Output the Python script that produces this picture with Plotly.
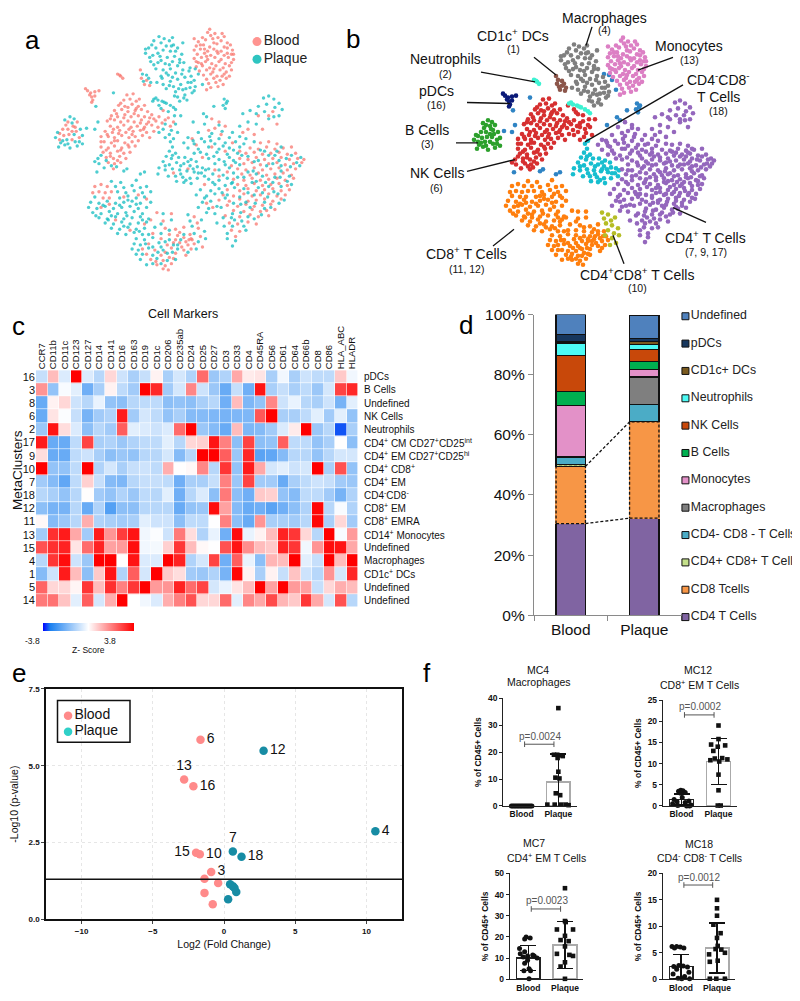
import plotly.graph_objects as go

# the page body keeps its 8px margin, so the figure is 8px smaller and positions are measured from the page corner
W, H = 800, 1001
PAGE_MARGIN = 8
FONT = "Liberation Sans"

# --- panels a / b: t-SNE points, per cluster and tissue
mono_blood = [(281,32),(288,33),(276,37),(284,35),(291,37),(297,36),(272,41),(279,39),(287,42),(294,40),(300,42),
    (270,45),(277,44),(283,46),(290,43),(297,46),(303,44),(268,49),(274,48),(281,50),(287,48),(294,50),(300,47),(305,49),
    (271,53),(278,52),(284,54),(291,52),(297,54),(304,53),(268,57),(275,56),(281,58),(288,56),(294,58),(301,56),(306,58),
    (272,61),(279,60),(285,62),(292,60),(298,62),(304,61),(270,65),(276,64),(283,66),(289,64),(296,66),(302,64),
    (273,69),(280,68),(286,70),(293,68),(299,70),(304,68),(277,73),(284,72),(290,74),(297,72),(302,74),
    (280,77),(287,76),(293,78),(299,76),(282,81),(289,80),(296,82),(284,85),(291,84),(280,87),(268,38),(283,29),
    (274,44),(286,38),(295,33),(280,55),(290,50),(300,52),(275,62),(287,67),(295,74),(270,60),(306,53),(278,48)]
mac_plaque = [(229,40),(236,42),(244,40),(248,44),(224,47),(231,47),(238,49),(245,50),(252,47),(221,52),(228,54),
    (235,55),(242,56),(249,55),(256,53),(226,60),(233,61),(240,62),(247,60),(254,58),(231,67),(238,68),(245,67),(252,64),
    (258,61),(236,74),(243,73),(250,71),(257,68),(263,69),(238,82),(245,79),(252,77),(259,75),(265,74),(241,86),(248,84),
    (255,82),(262,80),(268,78),(250,89),(257,87),(264,85),(269,84),(252,94),(259,92),(266,90),(254,98),(261,97),(237,76),
    (232,80),(257,42),(234,36),(247,37),(225,56),(241,45),(236,59),(250,50),(244,63),(256,72),(247,75),(260,86),(253,86),
    (227,44),(239,38),(221,48),(233,52),(246,45),(229,63),(241,71),(254,61),(265,80),(244,83),(258,95),(249,93),(268,88)]
nk_blood = [(203,92),(209,91),(200,97),(206,96),(212,98),(195,102),(201,103),(208,101),(214,103),(220,102),(191,107),
    (198,106),(204,108),(211,107),(217,106),(223,108),(238,107),(188,112),(194,113),(201,111),(207,113),(214,112),(220,113),
    (227,111),(234,113),(243,114),(184,117),(191,116),(197,118),(204,117),(210,118),(217,116),(224,118),(231,117),(240,116),
    (248,118),(187,122),(194,123),(200,121),(207,123),(213,122),(220,123),(227,121),(233,123),(245,122),(182,127),(189,128),
    (196,126),(202,128),(209,127),(216,126),(222,128),(229,127),(185,132),(191,133),(198,131),(205,133),(211,132),(218,131),
    (225,133),(181,137),(188,138),(194,136),(201,138),(208,137),(214,136),(178,142),(185,143),(191,141),(198,143),(205,142),
    (211,141),(180,147),(187,148),(194,146),(200,148),(206,147),(183,152),(190,153),(196,151),(202,153),(185,157),(191,158),
    (197,157),(190,163),(215,96),(222,120),(178,132),
    (197,100),(204,104),(193,110),(210,110),(187,115),(200,114),(216,119),(190,125),(205,125),(219,125),(184,130),(195,129),
    (208,130),(178,137),(191,136),(204,140),(183,145),(197,145),(187,151),(194,155),(229,115),(237,119),(212,105),(225,114)]
nk_plaque = [(178,150),(183,155),(176,158),(188,160),(181,162),(193,161),(236,105),(243,108),(249,112),(240,120),(228,98),
    (234,102),(175,153),(172,156),(255,112),(238,125),(244,130),(234,128),(250,120),(246,126),(240,133),(252,128)]
bcell_blood = [(146,118),(151,122),(141,125),(154,127),(147,130),(157,133),(142,131),(150,135),(146,125),(155,118),(138,135),
    (150,127),(144,121),(138,129),(153,123)]
bcell_plaque = [(148,113),(143,116),(152,115),(136,128),(139,138),(137,142),(143,140),(148,143),(155,141),(160,139),(158,125),
    (160,131),(152,130),(145,135),(141,136),(134,133),(153,137),(146,139),(157,137),(150,119)]
pdc_blood = [(165,88),(168,90),(172,89),(176,88),(169,94),(170,97),(167,92),(172,93),(169,99),(163,86)]
cd1c_blood = [(216,68),(217,76),(222,78),(220,82),(225,83)]
cd1c_plaque = [(218,72),(222,73),(226,80),(224,76),(219,79)]
neut_blood = [(194,72),(197,74),(199,76),(196,73)]
neut_plaque = [(229,96),(233,97),(237,98),(241,100),(245,102),(248,104),(250,106),(231,95),(239,99)]
dn_plaque = [(245,137),(247,142),(244,146),(250,148),(241,151),(246,153),(253,152),(259,152),(265,154),(270,156),(238,156),
    (244,159),(251,157),(258,158),(264,160),(271,161),(276,162),(234,162),(240,164),(247,163),(254,164),(261,165),(268,166),
    (275,167),(279,164),(233,168),(243,170),(250,170),(257,171),(264,172),(271,172),(251,175),(258,176),(265,177),(278,170),
    (248,134),(255,160),(262,156),(247,150),(240,160),(267,163),(255,168),(272,167),(260,174)]
dn_blood = [(262,163),(248,167)]
cd4_blood = [(332,138),(340,137),(348,139),(322,143),(330,144),(338,142),(346,144),(354,143),(362,142),(318,148),(326,147),
    (334,149),(342,148),(350,147),(358,149),(366,148),(312,153),(320,154),(328,152),(336,154),(344,153),(352,152),(360,154),
    (368,153),(374,154),(316,158),(324,157),(332,159),(340,158),(348,157),(356,159),(364,158),(372,157),(310,163),(318,164),
    (326,162),(334,164),(342,163),(350,162),(358,164),(366,163),(314,168),(322,169),(330,167),(338,169),(346,168),(354,167),
    (362,169),(306,173),(316,174),(324,172),(332,174),(340,173),(348,172),(356,174),(364,172),(310,178),(318,179),(326,177),
    (334,179),(342,178),(350,177),(358,179),(300,183),(312,184),(320,182),(328,184),(336,183),(344,182),(352,184),(360,183),
    (296,188),(306,189),(316,187),(324,189),(332,188),(340,187),(348,189),(356,188),(292,193),(302,194),(312,192),(320,194),
    (328,193),(336,192),(344,194),(352,192),(300,198),(310,199),(318,197),(326,199),(334,198),(342,197),(306,203),(316,204),
    (324,202),(332,204),(338,203),(346,202),(298,208),(312,209),(322,207),(330,209),(340,208),(302,215),(310,216),(320,214),
    (328,216),(304,222),(312,223),(308,228),(285,115),(292,118),(298,122),(288,124),(282,126),(340,112),
    (270,140),(285,142),(298,146),(312,146),(276,152),(288,164),(300,166),(278,178),(292,170),(304,160),(280,196),(286,200),
    (266,134),(294,130),(305,138),(315,128),(326,130),(334,125),(348,120),(320,125),(330,112),(344,108)]
cd4_plaque = [(335,95),(340,93),(345,96),(350,100),(338,101),(346,104),(330,103),(322,107),(315,110),(328,110),(336,108),
    (353,106),(320,118),(312,122),(328,120),(340,115),(345,113),(350,112),(278,120),(292,121),(272,128),(285,129),(295,127),
    (305,128),(262,133),(275,134),(283,132),(292,134),(302,133),(312,132),(318,134),(258,138),(268,139),(278,137),(288,139),
    (298,138),(308,137),(316,139),(326,137),(262,143),(272,144),(282,142),(292,144),(302,143),(312,142),(268,148),(280,149),
    (290,147),(300,149),(310,148),(282,153),(292,154),(302,152),(306,155),(288,158),(298,159),(308,157),(282,163),(292,164),
    (302,162),(286,168),(296,169),(306,167),(282,173),(292,174),(300,172),(288,178),(298,179),(304,177),(274,183),(284,184),
    (292,182),(270,188),(280,189),(288,187),(276,195),(284,194),(272,200),(282,201),(290,199),(280,205),(288,206),(340,150),
    (352,165),(328,175),(345,185),(318,195),(360,170),(370,160),(336,195),(305,218),(308,232),(305,237),(296,210),(290,215),
    (300,225),(318,222),(350,155),(325,165),(340,180),(355,193),
    (267,136),(284,136),(296,141),(306,145),(274,147),(287,151),(297,156),(312,159),(320,151),(330,155),(344,158),(357,153),
    (367,157),(316,171),(328,168),(337,176),(351,171),(358,175),(307,181),(320,186),(334,186),(349,187),(298,191),(313,197),
    (327,196),(342,200),(305,206),(320,209),(333,207),(314,213),(297,218),(307,212),(286,176),(295,186),(278,191),(332,145),
    (352,142),(346,150),(324,176),(310,171),
    (336,146),(348,146),(362,150),(371,152),(314,150),(326,156),(338,160),(352,160),(361,161),(320,166),(334,170),(346,171),
    (305,176),(316,182),(330,181),(344,176),(362,178),(300,188),(312,190),(326,188),(339,190),(352,180),(306,196),(322,200),
    (336,201),(350,196),(294,200),(304,210),(316,218),(326,211),(300,230),(313,205)]
cd8_blood = [(172,180),(178,178),(184,180),(176,185),(182,186),(188,185),(170,186),(186,191),(180,191),(232,205),(246,206),
    (226,212),(238,213),(240,220),(250,221),(258,219),(228,225),(244,226),(254,224),(264,226),(236,230),(250,231),(258,229),
    (266,231),(224,235),(242,236),(254,234),(262,236),(268,235),(218,240),(230,241),(246,239),(258,241),(265,240),(222,245),
    (236,246),(250,244),(260,246),(226,250),(238,251),(248,249),(232,255),(240,256),(246,254),(238,259),(243,260),
    (252,227),(260,233),(248,234),(256,238),(240,243),(231,252),(244,248),(263,231),
    (200,190),(214,188),(178,200),(192,212),(206,222),(220,216),(186,197),(222,192)]
cd8_plaque = [(188,175),(197,176),(212,174),(192,180),(200,181),(208,179),(216,181),(222,180),(194,185),(202,186),(210,184),
    (218,186),(226,185),(172,190),(196,191),(204,189),(212,191),(220,190),(168,195),(176,196),(184,194),(192,196),(200,195),
    (208,194),(216,196),(226,195),(166,200),(174,201),(182,199),(190,201),(198,200),(206,199),(214,201),(222,200),(170,205),
    (178,206),(186,204),(194,206),(202,205),(210,204),(218,206),(176,210),(184,211),(192,209),(200,211),(208,210),(216,209),
    (224,211),(182,215),(190,216),(198,214),(206,216),(214,215),(222,214),(236,216),(188,220),(196,221),(204,219),(212,221),
    (220,220),(230,219),(194,225),(202,226),(210,224),(218,226),(236,225),(212,230),(220,231),(228,229),(244,231),(210,235),
    (216,236),(234,234),(248,236),(208,240),(214,241),(224,239),(238,241),(252,240),(212,245),(228,246),(242,244),(216,250),
    (232,249),(242,251),(222,255),(228,254),
    (180,198),(196,198),(212,197),(173,208),(188,208),(203,208),(218,212),(185,212),(200,218),(215,223),(224,226),(204,193),
    (221,235),(233,243),(247,243),(255,231),(240,233),(228,238),(236,254),(218,245),
    (244,222),(252,236),(262,243),(236,238),(250,250),(258,226),(246,212),(238,206)]
dp_blood = [(268,209),(271,215),(272,220),(274,228),(265,230),(276,238)]
dp_plaque = [(262,207),(264,213),(275,212),(266,218),(278,223),(268,225),(279,230),(272,233),(270,240)]
undef_plaque = [(173,103),(190,90),(175,118),(172,125),(164,124),(264,66),(272,72),(269,67),(276,82),(297,96),(299,100),
    (296,102),(300,98),(298,105),(287,103),(277,110),(280,113),(267,118),(200,165),(220,166),(203,163),(174,166),(216,168)]

cluster_names = ["undef", "mono", "mac", "nk", "bcell", "pdc", "cd1c", "neut", "dn", "cd4", "cd8", "dp"]
cluster_colors = ["#2f84c4", "#dc7fc4", "#7f7f7f", "#d62f30", "#2ca02c", "#0b1a78", "#8c564b", "#3df2d2", "#17becf",
                  "#9467bd", "#ff7f0e", "#b5bd25"]
cluster_points = [undef_plaque, mono_blood, mac_plaque, nk_blood + nk_plaque, bcell_blood + bcell_plaque, pdc_blood,
                  cd1c_blood + cd1c_plaque, neut_blood + neut_plaque, dn_plaque + dn_blood, cd4_blood + cd4_plaque,
                  cd8_blood + cd8_plaque, dp_blood + dp_plaque]
blood_points = mono_blood + nk_blood + bcell_blood + pdc_blood + cd1c_blood + neut_blood + dn_blood + cd4_blood + cd8_blood + dp_blood
plaque_points = mac_plaque + nk_plaque + bcell_plaque + cd1c_plaque + neut_plaque + dn_plaque + cd4_plaque + cd8_plaque + dp_plaque + undef_plaque

tissue_labels = ["Blood", "Plaque"]
tissue_key_y = [40.8, 57.8]
tissue_key_colors = ["#ff9490", "#2ec4c0"]

# --- panel c
markers = ["CCR7", "CD11b", "CD11c", "CD123", "CD127", "CD14", "CD141", "CD16", "CD163", "CD19", "CD1c", "CD206", "CD235ab",
           "CD24", "CD25", "CD27", "CD3", "CD33", "CD4", "CD45RA", "CD56", "CD61", "CD64", "CD66b", "CD8", "CD86", "HLA_ABC", "HLADR"]
metaclusters = ["16", "3", "8", "6", "2", "17", "9", "10", "7", "18", "12", "11", "13", "15", "4", "1", "5", "14"]
row_names = ["pDCs", "B Cells", "Undefined", "NK Cells", "Neutrophils", "CD4<sup>+</sup> CM CD27<sup>+</sup>CD25<sup>int</sup>",
             "CD4<sup>+</sup> EM CD27<sup>+</sup>CD25<sup>hi</sup>", "CD4<sup>+</sup> CD8<sup>+</sup>", "CD4<sup>+</sup> EM",
             "CD4<sup>-</sup>CD8<sup>-</sup>", "CD8<sup>+</sup> EM", "CD8<sup>+</sup> EMRA", "CD14<sup>+</sup> Monocytes", "Undefined",
             "Macrophages", "CD1c<sup>+</sup> DCs", "Undefined", "Undefined"]
zscores = [
    [-0.8, 1.0, -0.5, 3.8, -0.5, -1, 0.6, -0.7, -1.2, -0.8, 0.2, -1.2, -0.6, -1.1, 2.2, -1.4, -1.1, 1.3, 0.3, 0.4, -1.2, -0.2, -1.2, -0.7, -0.9, -0.9, 0.8, -0.2],
    [1.6, -1.5, -0.1, -0.4, -2, -1.2, 0.2, -0.9, -1.3, 3.8, 3.2, -1.3, -0.6, 1.8, -0.7, -1.4, -2.1, -0.8, -2, 3.5, -1.2, -0.8, -1.2, -0.9, -1.4, -0.6, 2.8, 3.2],
    [-2.1, 0.2, 0.6, -0.7, -1, -0.3, -1.5, -1.6, -1, -0.9, -0.9, -1.6, -1.5, -1.6, -1.2, -1, -2, 1, -1.8, -1.5, 1.8, -0.7, -0.3, -1, -1.2, -0.7, -1.9, -0.4],
    [-2.1, 0.4, -0.05, -0.8, -1.9, -1.3, -1.1, 3.4, -1.3, -0.6, -0.9, -1.5, -1.2, -1.7, -1.7, -1.8, -1.9, -1.8, -1.8, 2.5, 3.8, -1.2, -1.2, -0.9, -0.4, -1.3, -0.4, -1.5],
    [-1.4, 3.5, 0.5, -0.5, -1.6, -1, -1.3, 2.4, -0.4, -0.5, -0.7, -0.5, 2.2, 3.8, -1.4, -1.7, -2.1, 1, -1.8, -1.7, -1.3, -0.5, 0.3, 3.8, -1.4, -1, -3.4, -1.2],
    [3.4, -2.1, -2.1, -0.9, 2.8, -1.2, -1.1, -1.4, -1.1, -0.9, -0.9, -0.4, -1, 0.6, 0.7, 3.5, 1.9, -1.6, 2.8, -1.6, -1.5, 2.4, -0.9, -0.9, -1.5, -1.2, 0.02, -1.6],
    [0.5, -2.1, -2.1, -0.9, -0.7, -1.2, -1.6, -1.4, -1.5, -1, -1, -0.6, -1.7, -1, 3.8, 3.8, 2.4, -1.4, 3.2, -2.3, -2.2, -1.7, -1, -1, -1.5, -1, -0.6, -0.6],
    [3.8, -1.5, -1.5, -0.9, 3.8, -1.1, -0.6, -1.2, -0.8, -0.7, -0.9, 1.2, 0.02, 0.1, 1.8, -1, 3, -1.5, 3.4, 1.3, -0.6, -0.4, -0.7, -0.6, 3.8, -1.2, 2.6, -1.5],
    [-1.3, -1.7, -2.2, -0.9, 0.7, -0.8, -1.7, -1.8, -1, -0.8, -0.8, -0.9, -2, -1.2, -1.2, -0.8, 1.9, -1.4, 2.8, -1.3, -1.3, -2.1, -1.2, -0.9, -0.7, -0.8, -1.3, -1.4],
    [-1, -1.2, -1.5, -1, 0.03, -1.3, -1.5, -1.1, -1.4, -0.9, -1, -0.4, -2, -1, -0.5, -1.6, 2, -1.6, -2, 0.8, 0.7, -1.5, -1.7, -0.9, -0.9, -1.3, -1.9, -1.1],
    [-1.6, -1.9, -1.9, -1, -2.1, -1.1, -2.4, -1.6, -1.6, -1, -1, -1, -2.1, -1.5, -1.4, 3.6, 1.4, -1.7, -2.1, -2, -2.3, -2, -1.6, -1.1, 3.7, -1, -0.1, -1.1],
    [0.1, -1.7, -1.4, -1, 1.2, -1.1, -1.2, -1.3, -1.2, -0.4, -0.7, -0.7, -1.6, -0.9, -0.9, -0.02, 1.9, -1.6, -2.1, 1.6, -1.2, -1.2, -1.3, -1, 3.7, -1.2, 0.6, -1.3],
    [-1.3, 3.1, 3.4, 1.3, -1.3, 3.4, 1.6, 2.9, 3.5, -0.2, -0.05, -0.7, 2, 0.5, -1.1, -0.3, -2, 3.6, -0.3, 0.2, 1, 3.3, 3, 0.6, -1, 3.8, -0.1, 1.5],
    [2.6, 3.1, 3.3, 0.4, 2.2, 3.3, 1.4, 1.5, 3.6, -0.2, -0.15, 0.7, 3, 1, 0.1, -0.02, 2.6, 3.5, 1.7, 1, 0.8, 3.3, 3, -0.2, 1.6, 3.6, 3.5, 1.3],
    [-1, 3, 3.6, -0.7, -1.4, 3.8, 3.8, 0.02, 3.5, -0.5, -0.5, 3.8, 3.3, -1.1, -0.6, 2.8, -2, 2.4, -0.3, -1.6, 1.1, 1, 3.8, -0.4, -0.8, 3.8, 1, 3.8],
    [-1.7, -0.7, 3.4, 1, -1.6, 0.8, 3.5, -1.1, 2.4, -0.6, 3.8, 0.8, 0.5, -1.3, -1.4, -1.1, -1.9, 3.7, 0.2, -1.2, 0.2, -0.8, 0.9, -0.7, -1, 1.6, -0.6, 3.2],
    [2.3, 0.6, 0.6, 0.15, 3, 1, 3.1, 1.9, 3, 3.8, 1.5, 1.6, 3.3, 2.2, 2.8, -0.6, -0.3, 0.4, 1, 3.8, 1.4, 3.8, 1.5, 1.4, -0.8, 0.6, 1.2, 1],
    [2, 2.1, 0.9, -0.4, 2.4, -0.6, 1.2, 3.8, 0, -0.2, -0.5, 1.2, 1.9, 2.6, 0.6, 0.6, 2.2, -0.4, 1.8, 1.3, 2.7, 1.1, 0.8, 3, 1.3, -0.6, 2.6, -1],
]

# --- panel d: stacked percentages, bottom to top
stack_names = ["CD4 T Cells", "CD8 Tcells", "CD4+ CD8+ T Cells", "CD4- CD8 - T Cells", "Macrophages", "Monocytes", "B Cells",
               "NK Cells", "Neutrophils", "CD1c+ DCs", "pDCs", "Undefined"]
stack_colors = ["#8064a2", "#f79646", "#c4e08a", "#4bacc6", "#7f7f7f", "#e391c8", "#00b050", "#c8480a", "#4dfbf5", "#7a5a1e",
                "#17375e", "#4f81bd"]
stack_blood = [30.5, 19.0, 0.7, 2.3, 0.2, 17.0, 4.6, 12.0, 4.2, 0.4, 2.4, 6.9]
stack_plaque = [32.3, 32.0, 0.2, 5.7, 9.0, 2.6, 2.6, 3.9, 1.7, 1.0, 1.0, 7.7]
tissues = ["Blood", "Plaque"]

# --- panel e
blood_fc = [-1.65, -2.8, -2.15, -1.96, -1.7, -0.9, -1.37, -0.41, -1.37, -0.79]
blood_logp = [5.85, 4.55, 4.33, 2.17, 2.12, 1.54, 1.32, 1.18, 0.86, 0.49]
blood_ids = ["6", "13", "16", "15", "10", "3", None, None, None, None]
blood_pos = ["middle right", "top center", "middle right", "middle left", "middle right", "middle right", "top center", "top center", "top center", "top center"]
plaque_fc = [2.78, 10.63, 0.62, 1.23, 0.43, 0.62, 0.74, 0.86, 0.29]
plaque_logp = [5.49, 2.87, 2.21, 2.04, 1.14, 1.08, 1.02, 0.89, 0.65]
plaque_ids = ["12", "4", "7", "18", None, None, None, None, None]
plaque_pos = ["middle right", "middle right", "top center", "middle right", "top center", "top center", "top center", "top center", "top center"]
p_cutoff = 1.3

# --- panel f
f_titles = [("MC4", "Macrophages"), ("MC12", "CD8<sup>+</sup> EM T Cells"), ("MC7", "CD4<sup>+</sup> EM T Cells"), ("MC18", "CD4<sup>-</sup> CD8<sup>-</sup> T Cells")]
f_pvalues = ["p=0.0024", "p=0.0002", "p=0.0023", "p=0.0012"]
f_bracket_y = [22.9, 21.5, 33.2, 17.8]
f_ymax = [40, 25, 50, 20]
f_yticks = [[0, 10, 20, 30, 40], [0, 5, 10, 15, 20, 25], [0, 10, 20, 30, 40, 50], [0, 5, 10, 15, 20]]
f_means = [(0.1, 8.8), (1.5, 10.5), (10, 16.2), (2.4, 5.9)]
f_sds = [(0.1, 10.5), (1.3, 5.5), (5.8, 11), (2.3, 4.7)]
f_blood = [
    [0, 0, 0, 0, 0, 0, 0, 0, 0, 0, 0, 0, 0, 0, 0],
    [3.7, 3.6, 3.5, 3.2, 3.0, 2.0, 1.5, 1.2, 1, 0.8, 0.5, 0.2, 0.1, 0, 0],
    [20, 19.5, 19, 14.5, 13, 12, 11.5, 11, 11, 10.5, 10, 9, 7.5, 5, 4, 4, 0.2],
    [6.2, 6.2, 6.1, 5.9, 5.9, 2.6, 2.5, 2.4, 2.3, 1.9, 1.3, 1.0, 0.5, 0.2, 0.1, 0.1],
]
f_blood_off = [
    [-0.28, -0.24, -0.2, -0.16, -0.12, -0.08, -0.04, 0, 0.04, 0.08, 0.12, 0.16, 0.2, 0.24, 0.28],
    [-0.02, 0.04, -0.08, 0.1, -0.02, 0.02, -0.2, 0.2, -0.12, 0.1, -0.24, 0.26, -0.1, 0.14, 0.22],
    [-0.06, 0.05, -0.1, -0.24, -0.1, -0.22, 0.12, -0.02, 0.16, -0.14, 0.24, -0.02, -0.1, 0.02, -0.12, 0.06, 0.02],
    [-0.25, -0.12, -0.02, -0.18, 0.08, -0.06, 0.06, -0.2, 0.18, -0.12, 0.22, -0.22, 0.1, -0.08, 0.02, 0.24],
]
f_plaque = [
    [36.3, 19, 19, 18.8, 18.5, 17.8, 12.7, 10.5, 10.2, 4.7, 4.0, 0.5, 0.5, 0.5, 0.5, 0.3],
    [19, 15.8, 14.5, 14.3, 14.0, 13.0, 11.3, 11.2, 11.0, 10.8, 10.5, 7.4, 3.7, 0.1, 0.1],
    [43, 27.5, 27, 23.5, 23.5, 20.5, 18.5, 18, 15.5, 12, 11.5, 11, 8, 6, 0.2],
    [15, 13.4, 12, 10.3, 8.7, 7.8, 6.3, 5.7, 5.6, 5.0, 4.7, 3.5, 3.3, 0.1, 0.1, 0.1],
]
f_plaque_off = [
    [0, -0.12, -0.03, 0.05, 0.12, -0.02, 0, -0.08, 0.03, -0.07, 0.05, -0.3, -0.1, 0.08, 0.2, 0.28],
    [0, 0, -0.2, 0.18, -0.02, -0.14, 0.1, -0.1, 0.24, -0.22, 0.02, 0, 0, -0.02, 0.06],
    [0, 0, 0.02, -0.22, 0.22, 0, -0.12, 0.1, 0, -0.22, 0.12, 0.22, 0, -0.12, 0],
    [0, 0, 0, -0.1, 0.1, 0, 0.02, -0.04, 0.12, 0.22, -0.22, 0.02, -0.2, 0.22, -0.02, -0.2],
]

# --- positions on the page
FIG_W, FIG_H = W - PAGE_MARGIN, H - PAGE_MARGIN


def fx(px):
    return (px - PAGE_MARGIN) / FIG_W


def fy(py):
    return 1 - (py - PAGE_MARGIN) / FIG_H


def xdom(l, r):
    return [fx(l), fx(r)]


def ydom(t, b):
    return [fy(b), fy(t)]


def note(px, py, text, size=14, anchor="center", color="#111", **kw):
    return dict(x=fx(px), y=fy(py), xref="paper", yref="paper", text=text, showarrow=False,
                font=dict(size=size, color=color, family=FONT), xanchor=anchor, yanchor="middle", **kw)


hidden = dict(visible=False, fixedrange=True)
fig = go.Figure()

# panel a
for pts, col, nm in [(blood_points, "#f8776f", "Blood"), (plaque_points, "#13bcc0", "Plaque")]:
    fig.add_trace(go.Scatter(x=[p[0] for p in pts], y=[p[1] for p in pts], mode="markers", name=nm, xaxis="x", yaxis="y",
                             marker=dict(size=3.4, color=col, opacity=0.75, line_width=0)))
fig.add_trace(go.Scatter(x=[328.7, 328.7], y=tissue_key_y, mode="markers+text", text=tissue_labels, textposition="middle right",
                         textfont=dict(size=14, color="#222", family=FONT), xaxis="x", yaxis="y",
                         marker=dict(size=9, color=tissue_key_colors)))

# panel b
for name, col, pts in zip(cluster_names, cluster_colors, cluster_points):
    fig.add_trace(go.Scatter(x=[p[0] for p in pts], y=[p[1] for p in pts], mode="markers", name=name, xaxis="x2", yaxis="y2",
                             marker=dict(size=4.6, color=col, line_width=0)))

# panel c
fig.add_trace(go.Heatmap(
    z=zscores, x=list(range(28)), y=list(range(18)), zmin=-3.8, zmax=3.8, xgap=0.6, ygap=0.6, xaxis="x3", yaxis="y3",
    colorscale=[[0, "#0000ff"], [0.08, "#1a80f0"], [0.5, "#ffffff"], [1, "#ff0000"]],
    colorbar=dict(orientation="h", thickness=8, lenmode="pixels", len=91, xanchor="left", x=fx(43), xpad=0, ypad=0,
                  yanchor="top", y=fy(625), showticklabels=False, ticks="", outlinewidth=0)))

# panel d
for name, col, b, p in zip(stack_names, stack_colors, stack_blood, stack_plaque):
    fig.add_trace(go.Bar(x=[0, 1], y=[b, p], name=name, width=0.4, xaxis="x4", yaxis="y4",
                         marker=dict(color=col, line=dict(color="#f79646" if name == "CD8 Tcells" else "#111", width=1.2))))
low_b, low_p = stack_blood[0], stack_plaque[0]
top_b, top_p = low_b + stack_blood[1], low_p + stack_plaque[1]
fig.add_trace(go.Scatter(x=[-0.2, 0.2, 0.2, -0.2, -0.2, None, 0.8, 1.2, 1.2, 0.8, 0.8, None, 0.2, 0.8, None, 0.2, 0.8],
                         y=[low_b, low_b, top_b, top_b, low_b, None, low_p, low_p, top_p, top_p, low_p, None, low_b, low_p, None, top_b, top_p],
                         mode="lines", line=dict(color="#111", width=1.3, dash="3px,2px"), xaxis="x4", yaxis="y4"))
legend_order = stack_names[::-1]
fig.add_trace(go.Scatter(x=[0] * 12, y=legend_order, mode="markers+text", text=legend_order, textposition="middle right",
                         textfont=dict(size=12.3, color="#222", family=FONT), xaxis="x5", yaxis="y5", cliponaxis=False,
                         marker=dict(symbol="square", size=7, color=stack_colors[::-1], line=dict(color="#111", width=1))))

# panel e
fig.add_trace(go.Scatter(x=blood_fc, y=blood_logp, mode="markers+text", text=blood_ids, textposition=blood_pos,
                         textfont=dict(size=14, color="#111", family=FONT), xaxis="x6", yaxis="y6", cliponaxis=False,
                         marker=dict(size=8.5, color="#ff8a8a")))
fig.add_trace(go.Scatter(x=plaque_fc, y=plaque_logp, mode="markers+text", text=plaque_ids, textposition=plaque_pos,
                         textfont=dict(size=14, color="#111", family=FONT), xaxis="x6", yaxis="y6", cliponaxis=False,
                         marker=dict(size=8.5, color="#178ca4")))
fig.add_trace(go.Scatter(x=[-10.95, -10.95], y=[6.63, 6.11], mode="markers+text", text=tissue_labels, textposition="middle right",
                         textfont=dict(size=14, color="#111", family=FONT), xaxis="x6", yaxis="y6",
                         marker=dict(size=8.5, color=["#ff8a8a", "#2fd0c8"])))

# panel f
for i in range(4):
    ax = str(7 + i)
    fig.add_trace(go.Bar(x=[0, 1], y=list(f_means[i]), width=0.65, xaxis="x" + ax, yaxis="y" + ax,
                         marker=dict(color="white", line=dict(color=["#222", "#aaaaaa"], width=1.6)),
                         error_y=dict(type="data", array=list(f_sds[i]), color="#111", thickness=1.3, width=8)))
    fig.add_trace(go.Scatter(x=f_blood_off[i], y=f_blood[i], mode="markers", xaxis="x" + ax, yaxis="y" + ax, cliponaxis=False,
                             marker=dict(size=5, color="#111")))
    fig.add_trace(go.Scatter(x=[1 + o for o in f_plaque_off[i]], y=f_plaque[i], mode="markers", xaxis="x" + ax, yaxis="y" + ax,
                             cliponaxis=False, marker=dict(symbol="square", size=4.6, color="#111")))
    fig.add_trace(go.Scatter(x=[0.08, 0.88], y=[f_bracket_y[i]] * 2, mode="lines+markers", xaxis="x" + ax, yaxis="y" + ax,
                             line=dict(color="#555", width=1), marker=dict(symbol="line-ns", size=4, line=dict(color="#555", width=1))))

layout = dict(
    width=FIG_W, height=FIG_H, margin=dict(l=0, r=0, t=0, b=0), paper_bgcolor="white", plot_bgcolor="white", showlegend=False,
    barmode="stack", font=dict(family=FONT, color="#111"),
    xaxis=dict(domain=xdom(8, 340), range=[88.1, 408.9], anchor="y", **hidden),
    yaxis=dict(domain=ydom(8, 290), range=[283.3, 17.2], anchor="x", **hidden),
    xaxis2=dict(domain=xdom(340, 800), range=[0, 460], anchor="y2", **hidden),
    yaxis2=dict(domain=ydom(8, 290), range=[290, 8], anchor="x2", **hidden),
    xaxis3=dict(domain=xdom(36, 358), range=[-0.5, 27.5], anchor="y3", side="top", tickmode="array", tickvals=list(range(28)), ticktext=markers,
                tickangle=-90, tickfont=dict(size=9.5), ticks="", showgrid=False, zeroline=False, showline=False, ticklen=0),
    yaxis3=dict(domain=ydom(367.3, 608.3), range=[17.5, -0.5], anchor="x3", tickmode="array", tickvals=list(range(18)), ticktext=metaclusters,
                tickfont=dict(size=11), ticks="", showgrid=False, zeroline=False, showline=False),
    xaxis4=dict(domain=xdom(534, 681), range=[-0.5, 1.5], anchor="y4", tickmode="array", tickvals=[0, 1], ticktext=tissues,
                tickfont=dict(size=15.5), ticks="", showgrid=False, zeroline=False, showline=True, linecolor="#8a8a8a", linewidth=1.3,
                minor=dict(tickmode="array", tickvals=[-0.5, 0.5, 1.5], ticks="outside", ticklen=5, tickcolor="#8a8a8a")),
    yaxis4=dict(domain=ydom(310.7, 616.7), range=[0, 100], anchor="x4", tickmode="array", tickvals=[0, 20, 40, 60, 80, 100],
                ticktext=["0%", "20%", "40%", "60%", "80%", "100%"], tickfont=dict(size=15.5), ticks="outside", ticklen=5,
                tickcolor="#8a8a8a", showgrid=False, zeroline=False, showline=True, linecolor="#8a8a8a", linewidth=1.3),
    xaxis5=dict(domain=xdom(682, 800), range=[-0.03, 1], anchor="y5", **hidden),
    yaxis5=dict(domain=ydom(290.5, 640.5), categoryorder="array", categoryarray=stack_names, anchor="x5", **hidden),
    xaxis6=dict(domain=xdom(46, 402), range=[-12.5, 12.5], anchor="y6", tickmode="array", tickvals=[-10, -5, 0, 5, 10],
                tickfont=dict(size=8, weight="bold"), ticks="outside", ticklen=3, showline=True, mirror=True, linecolor="#111", linewidth=1.5,
                gridcolor="#e6e6e6", griddash="dot", gridwidth=0.7, zeroline=False, title=dict(text="Log2 (Fold Change)", font=dict(size=10.5), standoff=6)),
    yaxis6=dict(domain=ydom(691.7, 926), range=[0, 7.5], anchor="x6", tickmode="array", tickvals=[0, 2.5, 5, 7.5], tickformat=".1f",
                tickfont=dict(size=8, weight="bold"), ticks="outside", ticklen=3, showline=True, mirror=True, linecolor="#111", linewidth=1.5,
                gridcolor="#e6e6e6", griddash="dot", gridwidth=0.7, zeroline=False, title=dict(text="-Log10 (p-value)", font=dict(size=10.5), standoff=8)),
)

f_boxes = [(503.3, 576.7, 701, 810.7), (663, 737, 703, 810.7), (510, 583.3, 879.3, 987), (663, 735, 879.3, 987)]
for i, (l, r, t, b) in enumerate(f_boxes):
    ax = str(7 + i)
    layout["xaxis" + ax] = dict(domain=xdom(l, r), range=[-0.5, 1.5], anchor="y" + ax, tickmode="array", tickvals=[0, 1], ticktext=tissues,
                                tickfont=dict(size=8.5, weight="bold"), ticks="", showgrid=False, zeroline=False, showline=True, linecolor="#222", linewidth=1.4)
    layout["yaxis" + ax] = dict(domain=ydom(t, b), range=[0, f_ymax[i]], anchor="x" + ax, tickmode="array", tickvals=f_yticks[i],
                                tickfont=dict(size=8.5, weight="bold"), ticks="outside", ticklen=3, tickcolor="#222", showgrid=False, zeroline=False,
                                showline=True, linecolor="#222", linewidth=1.4,
                                title=dict(text="% of CD45+ Cells", font=dict(size=8.5, weight="bold"), standoff=4))
fig.update_layout(**layout)

# labels and leader lines of panel b (t-SNE units)
b_lines = [(252, 18, 246, 37), (194, 49, 216, 67), (141, 64, 195, 74), (127, 95, 170, 96), (116, 136, 138, 136), (127, 165, 175, 153),
           (333, 49, 298, 62), (343, 77, 245, 135), (366, 217, 333, 202), (153, 241, 174, 224), (284, 259, 273, 230)]
for x0, y0, x1, y1 in b_lines:
    fig.add_shape(type="line", xref="x2", yref="y2", x0=x0, y0=y0, x1=x1, y1=y1, line=dict(color="#111", width=1.3))
fig.add_shape(type="line", xref="x6 domain", yref="y6", x0=0, x1=1, y0=p_cutoff, y1=p_cutoff, line=dict(color="#111", width=1.5))
fig.add_shape(type="rect", xref="paper", yref="paper", x0=fx(57.5), x1=fx(130), y0=fy(746), y1=fy(703.5),
              line=dict(color="#111", width=1.5))

b_labels = [(604, 9, "Macrophages", 14), (604, 21, "(4)", 10.5), (513, 26, "CD1c<sup>+</sup> DCs", 14), (513, 41, "(1)", 10.5),
            (446, 51, "Neutrophils", 14), (446, 66, "(2)", 10.5), (436, 83, "pDCs", 14), (436, 98, "(16)", 10.5),
            (427, 123, "B Cells", 14), (427, 137, "(3)", 10.5), (437, 167, "NK Cells", 14), (437, 182, "(6)", 10.5),
            (689, 37, "Monocytes", 14), (689, 52, "(13)", 10.5), (718, 71, "CD4<sup>-</sup>CD8<sup>-</sup>", 14), (718, 89, "T Cells", 14),
            (718, 104, "(18)", 10.5), (705, 232, "CD4<sup>+</sup> T Cells", 14), (706, 247, "(7, 9, 17)", 10.5),
            (466, 248, "CD8<sup>+</sup> T Cells", 14), (466, 264, "(11, 12)", 10.5), (637, 269, "CD4<sup>+</sup>CD8<sup>+</sup> T Cells", 14),
            (637, 284, "(10)", 10.5)]
anns = [note(x, y, t, s) for x, y, t, s in b_labels]
for x, y, t in [(32, 31, "a"), (353, 30, "b"), (18, 322, "c"), (466, 321, "d"), (19, 675, "e"), (427, 675, "f")]:
    anns.append(note(x, y, t, 26, color="black"))
anns.append(note(183, 310, "Cell Markers", 12.5))
anns.append(note(17, 469, "MetaClusters", 13.5, textangle=-90))
anns.append(note(32, 643, "-3.8", 8.5))
anns.append(note(110, 643, "3.8", 8.5))
anns.append(note(88, 652, "Z- Score", 8.5))
for i, name in enumerate(row_names):
    anns.append(dict(x=27.5, y=i, xref="x3", yref="y3", text=name, showarrow=False, xanchor="left", yanchor="middle", xshift=4,
                     font=dict(size=10, color="#111", family=FONT)))
f_title_px = [(538, 672, 539, 685), (698, 672, 699, 687), (534, 848, 546, 863), (699, 849, 699, 863)]
for (x1, y1, x2, y2), (t1, t2) in zip(f_title_px, f_titles):
    anns.append(note(x1, y1, t1, 10.5))
    anns.append(note(x2, y2, t2, 10.5))
for i in range(4):
    ax = str(7 + i)
    anns.append(dict(x=0.5, y=f_bracket_y[i], xref="x" + ax, yref="y" + ax, text=f_pvalues[i], showarrow=False, yshift=8,
                     font=dict(size=10, color="#555", family=FONT)))
fig.update_layout(annotations=anns)

fig.write_html("out.html")
